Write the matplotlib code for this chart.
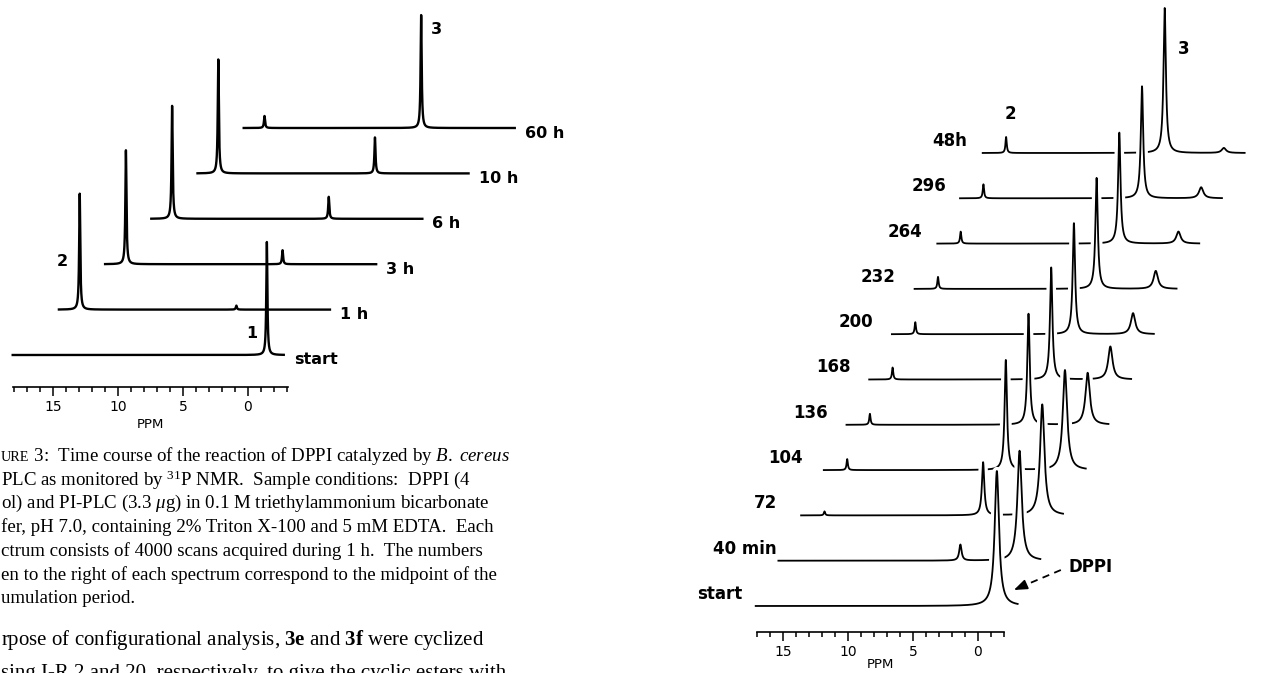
import matplotlib as mpl
mpl.use('Agg')
import matplotlib.pyplot as plt
import matplotlib.patheffects as pe
from matplotlib.ticker import FixedLocator
import numpy as np

# ---- data ----
# left stack (FIGURE 3), peaks 1 = DPPI, 2, 3
left_labels = ['start', '1 h', '3 h', '6 h', '10 h', '60 h']
left_ppm_1 = -1.45
left_ppm_2 = 16.5
left_ppm_3 = 4.45
left_h1 = [113, 0, 0, 0, 0, 0]
left_h2 = [0, 116, 114, 113, 114, 12]
left_h3 = [0, 4, 14, 22, 36, 113]

# right stack, times in min except 48h
right_labels = ['start', '40 min', '72', '104', '136', '168', '200', '232', '264', '296', '48h']
right_ppm_dppi = -1.45
right_ppm_2 = 15.3
right_ppm_3 = 3.1
right_h_dppi = [135, 110, 111, 100, 52, 33, 21, 18, 12, 11, 5]
right_h2 = [0, 0, 4, 11, 11, 12, 12, 12, 12, 14, 16]
right_h3 = [0, 16, 53, 110, 111, 112, 111, 111, 111, 112, 145]

major_ticks = [15, 10, 5, 0]

caption = [
    'PLC as monitored by $^{31}$P NMR.  Sample conditions:  DPPI (4',
    r'ol) and PI-PLC (3.3 $\mu$g) in 0.1 M triethylammonium bicarbonate',
    'fer, pH 7.0, containing 2% Triton X-100 and 5 mM EDTA.  Each',
    'ctrum consists of 4000 scans acquired during 1 h.  The numbers',
    'en to the right of each spectrum correspond to the midpoint of the',
    'umulation period.',
]
body = [
    r'rpose of configurational analysis, $\mathbf{3e}$ and $\mathbf{3f}$ were cyclized',
    'sing I-R 2 and 20, respectively, to give the cyclic esters with',
]

# ---- layout (pixels) ----
W, H = 1263, 673
PX = 13.0              # pixels per ppm, both panels
L_DX, L_DY = 46.2, 45.4
R_DX, R_DY = 22.7, 45.3
r_label_gap = [13, 2, 24, 21, 19, 19, 19, 19, 15, 14, 16]

serif = 'Liberation Serif'
plt.rcParams['mathtext.fontset'] = 'custom'
plt.rcParams['mathtext.rm'] = serif
plt.rcParams['mathtext.it'] = serif + ':italic'
plt.rcParams['mathtext.bf'] = serif + ':bold'
lab_font = dict(family='DejaVu Sans', fontweight='bold')


def lorentz(x, x0, h, w):
    return h / (1.0 + ((x - x0) / w) ** 2)


fig = plt.figure(figsize=(W / 100, H / 100), dpi=100)


def panel(x0, x1, y_axis, y_base, ppm0_px, lo, hi, ppm_drop):
    ax = fig.add_axes([x0 / W, (H - y_axis) / H, (x1 - x0) / W, y_axis / H])
    ax.set_xlim((ppm0_px - x0) / PX, (ppm0_px - x1) / PX)
    ax.set_ylim(y_base - y_axis, y_base)
    ax.patch.set_visible(False)
    for s in ['top', 'left', 'right']:
        ax.spines[s].set_visible(False)
    ax.spines['bottom'].set_bounds(lo, hi)
    ax.spines['bottom'].set_linewidth(1.2)
    ax.set_yticks([])
    ax.xaxis.set_major_locator(FixedLocator(major_ticks))
    ax.xaxis.set_minor_locator(FixedLocator(list(range(int(np.ceil(lo)), int(hi) + 1))))
    ax.set_xticklabels([str(t) for t in major_ticks], family='DejaVu Sans', fontsize=10)
    ax.tick_params(axis='x', which='major', length=6.5, width=1.1, pad=3)
    ax.tick_params(axis='x', which='minor', length=3.5, width=1.1)
    ax.text((lo + hi) / 2, y_base - y_axis - ppm_drop, 'PPM', ha='center', va='center',
            family='DejaVu Sans', fontsize=9.5)
    return ax


# ---- left stack ----
axl = panel(0, 640, 387, 355, 248, -3.1, 18.1, 38)
grid_l = np.linspace(18.1, -2.75, 6000)
for i, lab in enumerate(left_labels):
    y = (lorentz(grid_l, left_ppm_1, left_h1[i], 0.05)
         + lorentz(grid_l, left_ppm_2, left_h2[i], 0.05)
         + lorentz(grid_l, left_ppm_3, left_h3[i], 0.05))
    sh = i * L_DX / PX
    axl.plot(grid_l - sh, y + i * L_DY, color='black', lw=1.7, clip_on=False)
    axl.text(grid_l[-1] - sh - 10 / PX, i * L_DY - 5, lab, ha='left', va='center',
             fontsize=11.5, **lab_font)
axl.text(left_ppm_1 + 15 / PX, 22, '1', ha='center', va='center', fontsize=11.5, **lab_font)
axl.text(left_ppm_2 - L_DX / PX + 17 / PX, L_DY + 48, '2', ha='center', va='center',
         fontsize=11.5, **lab_font)
axl.text(left_ppm_3 - 5 * L_DX / PX - 15 / PX, 5 * L_DY + left_h3[5] - 15, '3',
         ha='center', va='center', fontsize=11.5, **lab_font)

# ---- right stack ----
axr = panel(660, 1263, 632, 606, 978, -2.0, 17.0, 33)
grid_r = np.linspace(17.1, -3.05, 6000)
halo = [pe.Stroke(linewidth=6, foreground='white'), pe.Normal()]
for i in reversed(range(len(right_labels))):
    y = (lorentz(grid_r, right_ppm_dppi, right_h_dppi[i], 0.2)
         + lorentz(grid_r, right_ppm_2, right_h2[i], 0.06)
         + lorentz(grid_r, right_ppm_3, right_h3[i], 0.11))
    sh = i * R_DX / PX
    axr.plot(grid_r - sh, y + i * R_DY, color='black', lw=1.3, clip_on=False,
             path_effects=halo)
    axr.text(grid_r[0] - sh + r_label_gap[i] / PX, i * R_DY + 12, right_labels[i],
             ha='right', va='center', fontsize=12, zorder=10, **lab_font)

top = len(right_labels) - 1
axr.text(right_ppm_2 - top * R_DX / PX - 4 / PX, top * R_DY + right_h2[top] + 23, '2',
         ha='center', va='center', fontsize=12, zorder=10, **lab_font)
axr.text(right_ppm_3 - top * R_DX / PX - 19 / PX, top * R_DY + right_h3[top] - 41, '3',
         ha='center', va='center', fontsize=12, zorder=10, **lab_font)

# DPPI arrow pointing at the front spectrum
head = (right_ppm_dppi - 17 / PX, 16)
tail = (right_ppm_dppi - 64 / PX, 36)
axr.plot([tail[0], head[0] - 8 / PX], [tail[1], head[1] + 3.5], color='black', lw=1.3,
         ls=(0, (4, 3)), zorder=10)
axr.annotate('', xy=head, xytext=(head[0] - 9 / PX, head[1] + 4),
             arrowprops=dict(arrowstyle='-|>,head_length=0.8,head_width=0.3',
                             color='black', lw=1.2, shrinkA=0, shrinkB=0), zorder=10)
axr.text(right_ppm_dppi - 72 / PX, 39, 'DPPI', ha='left', va='center', fontsize=12,
         zorder=10, **lab_font)

# ---- caption and running text (cropped page) ----
t0 = fig.text(1 / W, 1 - 461 / H, 'URE', fontsize=10.2, family=serif, va='baseline')
bb = t0.get_window_extent(renderer=fig.canvas.get_renderer())
fig.text(bb.x1 / W, 1 - 461 / H, r' 3:  Time course of the reaction of DPPI catalyzed by $\mathit{B.\ cereus}$',
         fontsize=13.6, family=serif, va='baseline')
for k, line in enumerate(caption):
    fig.text(1 / W, 1 - (461 + 23.7 * (k + 1)) / H, line, fontsize=13.6, family=serif,
             va='baseline')
for k, line in enumerate(body):
    fig.text(1 / W, 1 - (645 + 33 * k) / H, line, fontsize=15, family=serif, va='baseline')

fig.savefig('out.png', dpi=100, facecolor='white')
